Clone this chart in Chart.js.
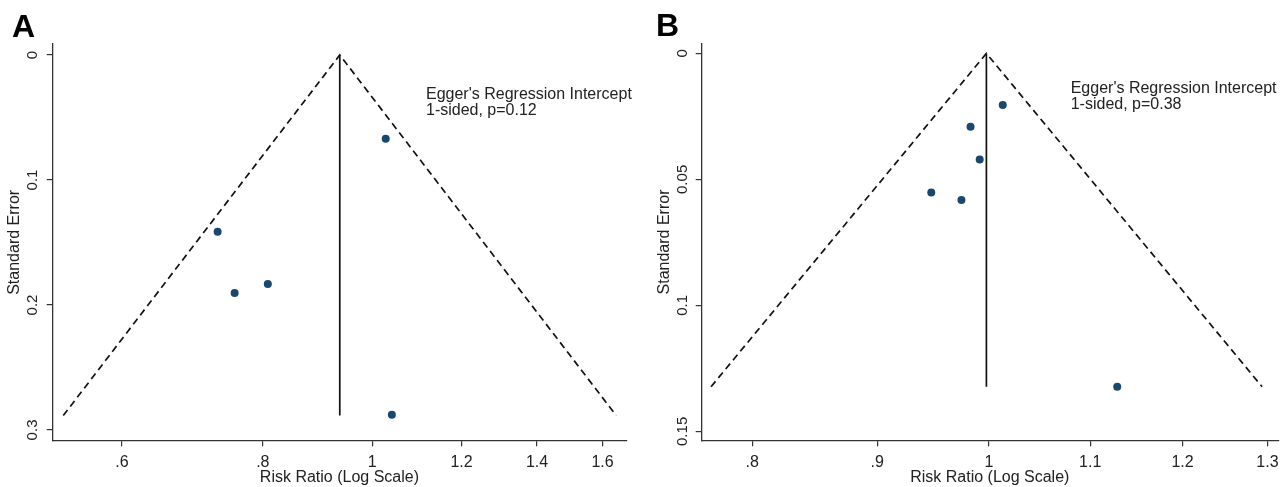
<!DOCTYPE html>
<html>
<head>
<meta charset="utf-8">
<script src="https://cdn.jsdelivr.net/npm/chart.js@4.4.1/dist/chart.umd.min.js"></script>
<style>
  body { margin: 0; background: #fff; }
  #wrapA { position: absolute; left: 0; top: 0; width: 640px; height: 487px; }
  #wrapB { position: absolute; left: 640px; top: 0; width: 648px; height: 487px; }
</style>
</head>
<body>
<div id="wrapA"><canvas id="chartA" width="640" height="487"></canvas></div>
<div id="wrapB"><canvas id="chartB" width="648" height="487"></canvas></div>
<script>
// Panel A: study estimates (risk ratio, standard error)
const rrA = [1.028, 0.7295, 0.7553, 0.8082, 1.041];
const seA = [0.067, 0.1414, 0.1904, 0.1832, 0.2878];
// funnel outline: left foot, apex, right foot
const funnelRrA = [0.5324, 0.936, 1.6455];
const funnelSeA = [0.2885, 0, 0.2885];
const xTicksA = [0.6, 0.8, 1, 1.2, 1.4, 1.6];
const yTicksA = [0, 0.1, 0.2, 0.3];

// Panel B
const rrB = [1.013, 0.9827, 0.9912, 0.947, 0.9743, 1.1284];
const seB = [0.0205, 0.0291, 0.0421, 0.0552, 0.0582, 0.1323];
const funnelRrB = [0.7695, 0.9975, 1.2935];
const funnelSeB = [0.1323, 0, 0.1323];
const xTicksB = [0.8, 0.9, 1, 1.1, 1.2, 1.3];
const yTicksB = [0, 0.05, 0.1, 0.15];

const FONT = '"Liberation Sans", Arial, Helvetica, sans-serif';
const INK = '#222';
const NAVY = '#1a476f';

Chart.defaults.font.family = FONT;
Chart.defaults.color = INK;

function fmtTick(v) {
  const s = String(+Number(v).toFixed(2));
  return s.startsWith('0.') ? s.slice(1) : s;
}

// rotated y tick labels, panel letter and Egger note
const panelText = {
  id: 'panelText',
  afterDraw(chart, args, opts) {
    const ctx = chart.ctx;
    const ys = chart.scales.y;
    ctx.save();
    ctx.fillStyle = INK;
    ctx.font = '15px ' + FONT;
    ctx.textAlign = 'center';
    ctx.textBaseline = 'alphabetic';
    ys.ticks.forEach(t => {
      const y = ys.getPixelForValue(t.value);
      ctx.save();
      ctx.translate(ys.right - opts.yLabelOffset, y);
      ctx.rotate(-Math.PI / 2);
      ctx.fillText(String(t.value), 0, 0);
      ctx.restore();
    });

    ctx.textAlign = 'left';
    ctx.fillStyle = '#000';
    ctx.font = 'bold 32px ' + FONT;
    ctx.fillText(opts.letter, opts.letterX, opts.letterY);

    ctx.fillStyle = INK;
    ctx.font = '16px ' + FONT;
    opts.note.forEach((line, i) => {
      ctx.fillText(line, opts.noteX, opts.noteY + i * 16);
    });
    ctx.restore();
  }
};

function makeFunnel(canvasId, rr, se, fRr, fSe, xTicks, yTicks, cfg) {
  const points = rr.map((v, i) => ({ x: v, y: se[i] }));
  const funnel = fRr.map((v, i) => ({ x: v, y: fSe[i] }));
  const refLine = [{ x: fRr[1], y: fSe[1] }, { x: fRr[1], y: fSe[0] }];

  return new Chart(document.getElementById(canvasId), {
    type: 'scatter',
    data: {
      datasets: [
        {
          data: funnel, showLine: true, borderColor: '#111', borderWidth: 1.7,
          borderDash: [7, 4.5], pointRadius: 0, fill: false
        },
        {
          data: refLine, showLine: true, borderColor: '#111', borderWidth: 1.7,
          pointRadius: 0, fill: false
        },
        {
          data: points, backgroundColor: NAVY, borderColor: NAVY,
          borderWidth: 0, pointRadius: 4
        }
      ]
    },
    options: {
      responsive: false,
      animation: false,
      devicePixelRatio: 1,
      layout: { padding: { left: 0, top: cfg.top, right: cfg.right, bottom: 0 } },
      plugins: {
        legend: { display: false },
        tooltip: { enabled: false },
        panelText: cfg.text
      },
      scales: {
        x: {
          type: 'logarithmic',
          min: cfg.xMin, max: cfg.xMax,
          afterBuildTicks: s => { s.ticks = xTicks.map(v => ({ value: v })); },
          afterFit: s => { s.height = cfg.xAxisH; },
          ticks: {
            autoSkip: false, maxRotation: 0, padding: 6.5,
            font: { size: 16 }, color: INK,
            callback: v => fmtTick(v)
          },
          grid: { drawOnChartArea: false, drawTicks: true, tickLength: 5.5, color: '#333', lineWidth: 1.2 },
          border: { display: true, color: '#333', width: 1.3 },
          title: {
            display: true, text: 'Risk Ratio (Log Scale)', color: INK,
            font: { size: 16 }, padding: { top: 0, bottom: 0 }
          }
        },
        y: {
          type: 'linear', reverse: true,
          min: cfg.yMin, max: cfg.yMax,
          afterBuildTicks: s => { s.ticks = yTicks.map(v => ({ value: v })); },
          afterFit: s => { s.width = cfg.yAxisW; },
          ticks: { display: false },
          grid: { drawOnChartArea: false, drawTicks: true, tickLength: 5.5, color: '#333', lineWidth: 1.2 },
          border: { display: true, color: '#333', width: 1.3 },
          title: {
            display: true, text: 'Standard Error', color: INK,
            font: { size: 16 }, padding: { top: cfg.yTitlePad, bottom: 0 }
          }
        }
      }
    },
    plugins: [panelText]
  });
}

makeFunnel('chartA', rrA, seA, funnelRrA, funnelSeA, xTicksA, yTicksA, {
  top: 44, right: 13.3, xAxisH: 46.3, yAxisW: 52.2, yTitlePad: 5.2,
  xMin: 0.5205, xMax: 1.681, yMin: -0.0088, yMax: 0.3086,
  text: {
    letter: 'A', letterX: 12, letterY: 37, yLabelOffset: 15.5,
    note: ["Egger's Regression Intercept", '1-sided, p=0.12'], noteX: 426, noteY: 99
  }
});

makeFunnel('chartB', rrB, seB, funnelRrB, funnelSeB, xTicksB, yTicksB, {
  top: 43.3, right: 9.6, xAxisH: 46.3, yAxisW: 61.2, yTitlePad: 14.6,
  xMin: 0.7624, xMax: 1.3135, yMin: -0.004, yMax: 0.1537,
  text: {
    letter: 'B', letterX: 16, letterY: 36, yLabelOffset: 13.8,
    note: ["Egger's Regression Intercept", '1-sided, p=0.38'], noteX: 430.7, noteY: 92.7
  }
});
</script>
</body>
</html>
